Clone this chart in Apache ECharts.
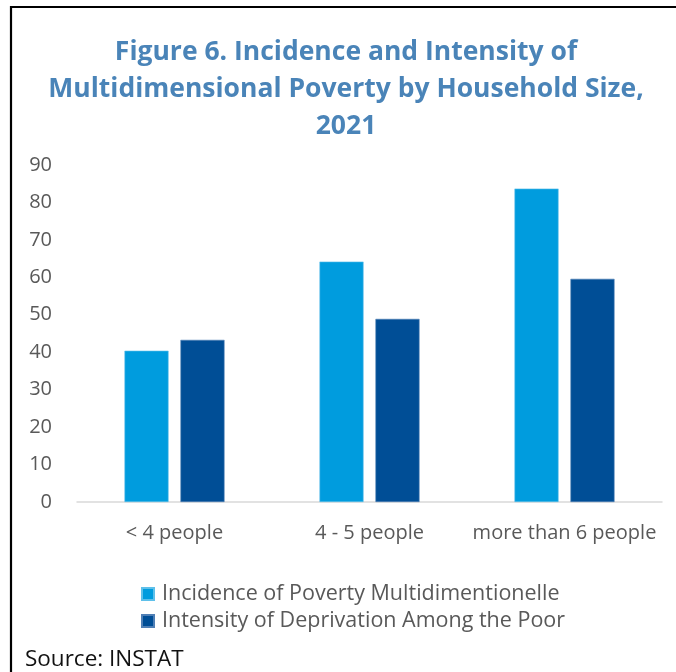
<!DOCTYPE html>
<html>
<head>
<meta charset="utf-8">
<script src="https://cdn.jsdelivr.net/npm/echarts@6/dist/echarts.min.js"></script>
<style>
  html, body { margin: 0; padding: 0; background: #fff; }
  #chart { width: 676px; height: 672px; }
</style>
</head>
<body>
<div id="chart"></div>
<script>
const titleLines = ['Figure 6. Incidence and Intensity of', 'Multidimensional Poverty by Household Size,', '2021'];
const categories = ['< 4 people', '4 - 5 people', 'more than 6 people'];
const seriesNames = ['Incidence of Poverty Multidimentionelle', 'Intensity of Deprivation Among the Poor'];
const incidence = [40.4, 64.2, 83.7];
const intensity = [43.3, 48.9, 59.6];
const yMin = 0, yMax = 90, yStep = 10;
const sourceText = 'Source: INSTAT';

const FONT = '"Open Sans", "Noto Sans", sans-serif';
const chart = echarts.init(document.getElementById('chart'), null, { renderer: 'canvas' });

chart.setOption({
  backgroundColor: '#ffffff',
  animation: false,
  title: {
    text: titleLines.join('\n'),
    left: 341,
    textAlign: 'center',
    top: 29,
    textStyle: {
      fontFamily: FONT,
      fontWeight: 'bold',
      fontSize: 26.5,
      lineHeight: 37,
      color: '#4a84b8'
    }
  },
  legend: {
    orient: 'vertical',
    left: 136,
    top: 578,
    itemWidth: 12,
    itemHeight: 12,
    itemGap: 5,
    icon: 'rect',
    textStyle: { fontFamily: FONT, fontSize: 21.5, color: '#595959', padding: [0, 0, 0, 3] },
    data: seriesNames
  },
  grid: { left: 77, right: 14, top: 165, bottom: 170, containLabel: false },
  xAxis: {
    type: 'category',
    data: categories,
    axisLine: { lineStyle: { color: '#d9d9d9', width: 1.5 } },
    axisTick: { show: false },
    axisLabel: { fontFamily: FONT, fontSize: 20, color: '#595959', margin: 21, interval: 0 }
  },
  yAxis: {
    type: 'value',
    min: yMin,
    max: yMax,
    interval: yStep,
    axisLine: { show: false },
    axisTick: { show: false },
    splitLine: { show: false },
    axisLabel: { fontFamily: FONT, fontSize: 20, color: '#595959', margin: 25 }
  },
  series: [
    {
      name: seriesNames[0],
      type: 'bar',
      data: incidence,
      barWidth: '22.6%',
      barGap: '27%',
      itemStyle: { color: '#009cde', borderColor: '#5ec0ea', borderWidth: 0.6 }
    },
    {
      name: seriesNames[1],
      type: 'bar',
      data: intensity,
      barWidth: '22.6%',
      itemStyle: { color: '#004e96', borderColor: '#4f7fb5', borderWidth: 0.6 }
    }
  ],
  graphic: [
    {
      type: 'rect',
      shape: { x: 11, y: 7, width: 720, height: 720 },
      style: { fill: 'none', stroke: '#000', lineWidth: 2.2 },
      silent: true
    },
    {
      type: 'text',
      left: 25,
      top: 648,
      style: { text: sourceText, font: '22.5px ' + FONT, fill: '#111' }
    }
  ]
});
</script>
</body>
</html>
